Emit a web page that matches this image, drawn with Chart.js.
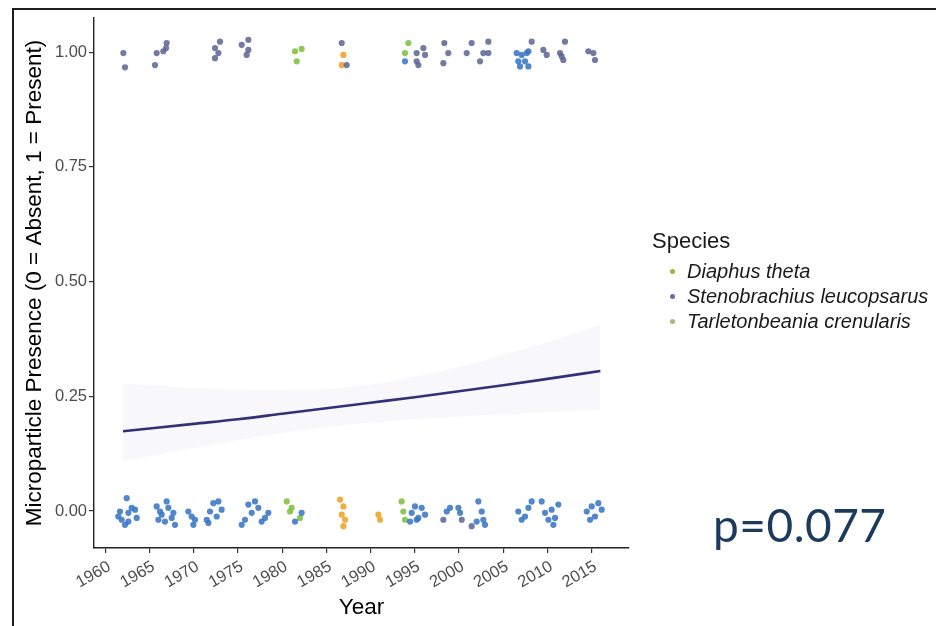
<!DOCTYPE html>
<html>
<head>
<meta charset="utf-8">
<script src="https://cdn.jsdelivr.net/npm/chart.js@4/dist/chart.umd.min.js"></script>
<style>
  html, body { margin: 0; padding: 0; background: #ffffff; }
  #wrap { position: relative; width: 936px; height: 626px; overflow: hidden; background: #ffffff; }
  #frame { position: absolute; left: 12px; top: 8px; right: 0; bottom: -4px;
           border-left: 2px solid #1e1e1e; border-top: 2px solid #1e1e1e; pointer-events: none; }
  #chart { position: absolute; left: 0; top: 0; }
  #legend { position: absolute; left: 652px; top: 226px; font-family: "Liberation Sans", Arial, sans-serif; color: #1a1a1a; }
  #legend .title { font-size: 22px; line-height: 30px; margin-bottom: 3px; }
  #legend .item { position: relative; height: 25px; line-height: 25px; font-size: 20px; font-style: italic; padding-left: 35px; white-space: nowrap; }
  #legend .dot { position: absolute; left: 18px; top: 10px; width: 5px; height: 5px; border-radius: 50%; }
  #pval { position: absolute; left: 713px; top: 497px; font-family: Lato, "Open Sans", sans-serif; font-size: 46px; color: #1b3a5c; letter-spacing: 0.5px; }
</style>
</head>
<body>
<div id="wrap">
  <canvas id="chart" width="936" height="626"></canvas>
  <div id="frame"></div>
  <div id="legend"></div>
  <div id="pval">p=0.077</div>
</div>
<script>
// Axis ticks
const yearTicks = [1960, 1965, 1970, 1975, 1980, 1985, 1990, 1995, 2000, 2005, 2010, 2015];
const presenceTicks = [0, 0.25, 0.5, 0.75, 1];

// Species shown in the legend, with their key colours
const speciesNames = ["Diaphus theta", "Stenobrachius leucopsarus", "Tarletonbeania crenularis"];
const speciesKeyColors = ["#8fb84a", "#6c6aa8", "#a6bb78"];

// Jittered observations: [year, presence]
const stenoAbsent = [
  [1962.42, 0.028], [1961.66, -0.001], [1962.61, -0.004], [1963.36, 0.003], [1961.85, -0.019],
  [1962.61, -0.023], [1963.55, -0.015], [1962.23, -0.030], [1961.47, -0.012], [1962.98, 0.007],
  [1965.81, 0.010], [1966.19, -0.001], [1966.00, -0.019], [1966.94, 0.021], [1967.13, 0.007],
  [1967.51, -0.015], [1966.38, -0.008], [1966.75, -0.023], [1967.88, -0.030], [1967.70, -0.004],
  [1969.39, -0.001], [1969.77, -0.012], [1970.15, -0.019], [1969.96, -0.030],
  [1971.47, -0.019], [1971.84, -0.001], [1972.22, 0.017], [1972.79, 0.021], [1973.16, 0.003],
  [1971.66, -0.026], [1972.60, -0.012],
  [1976.18, 0.014], [1976.93, 0.021], [1976.56, -0.004], [1977.31, 0.007], [1975.80, -0.019],
  [1975.43, -0.030], [1978.07, -0.015], [1978.44, -0.004], [1977.69, -0.023],
  [1981.46, -0.023], [1982.21, -0.004],
  [1994.66, -0.004], [1995.03, 0.010], [1994.47, -0.023], [1995.22, -0.019], [1995.79, 0.007],
  [1996.17, -0.008], [1995.41, -0.015],
  [1998.62, -0.001], [1999.00, 0.007], [1999.94, 0.007], [2000.13, -0.004],
  [2002.20, 0.021], [2002.58, -0.001], [2002.01, -0.023], [2002.76, -0.019], [2002.95, -0.030],
  [2006.72, -0.001], [2007.10, -0.019], [2007.86, 0.007], [2008.23, 0.021], [2007.48, -0.012],
  [2009.36, 0.021], [2009.74, -0.004], [2010.49, 0.003], [2010.87, -0.015], [2010.12, -0.019],
  [2011.25, 0.014], [2010.68, -0.030],
  [2014.46, -0.001], [2014.83, -0.019], [2015.02, 0.010], [2015.77, 0.017], [2016.15, 0.003],
  [2015.39, -0.012]
];
const stenoAbsentDark = [
  [1998.24, -0.019], [2000.32, -0.019], [2001.44, -0.033]
];
const stenoPresent = [
  [1962.04, 0.998], [1962.23, 0.967], [1965.62, 0.972], [1965.81, 0.998], [1966.56, 1.002],
  [1966.87, 1.009], [1966.94, 1.020], [1972.41, 1.009], [1972.79, 0.998], [1972.41, 0.987],
  [1972.97, 1.023], [1975.43, 1.016], [1976.18, 1.027], [1976.18, 1.005], [1975.99, 0.994],
  [1986.74, 1.020], [1987.30, 0.972],
  [1995.22, 0.998], [1995.98, 1.009], [1996.17, 0.994], [1995.22, 0.980], [1995.41, 0.972],
  [1998.35, 1.020], [1998.80, 0.998], [1998.24, 0.976], [2000.88, 0.998], [2001.44, 1.020],
  [2002.76, 0.998], [2003.33, 0.998], [2003.33, 1.023], [2002.39, 0.980],
  [2008.23, 1.023], [2009.55, 1.005], [2009.93, 0.994], [2011.44, 0.998], [2011.81, 0.983],
  [2012.00, 1.023], [2011.63, 0.991], [2014.64, 1.002], [2015.21, 0.998], [2015.39, 0.983]
];
const stenoPresentLight = [
  [2006.53, 0.998], [2007.10, 0.994], [2007.67, 0.998], [2007.86, 1.002], [2006.72, 0.980],
  [2007.48, 0.980], [2006.91, 0.969], [2007.86, 0.969], [1993.90, 0.980]
];
const diaphusAbsent = [
  [1980.52, 0.021], [1980.89, -0.001], [1982.02, -0.015], [1981.08, 0.007],
  [1993.52, 0.021], [1993.71, -0.001], [1993.90, -0.019]
];
const diaphusPresent = [
  [1981.46, 1.002], [1981.65, 0.980], [1982.21, 1.007], [1994.28, 1.020], [1993.90, 0.998]
];
const tarletonAbsent = [
  [1986.55, 0.025], [1986.93, 0.010], [1986.74, -0.008], [1987.12, -0.019], [1986.93, -0.033],
  [1990.89, -0.008], [1991.08, -0.019]
];
const tarletonPresent = [
  [1986.93, 0.994], [1986.74, 0.972]
];

// Fitted logistic trend with its confidence band: [year, probability]
const fitYears = [1962, 1965, 1970, 1975, 1980, 1985, 1990, 1995, 2000, 2005, 2010, 2016];
const fitMean  = [0.174, 0.180, 0.190, 0.200, 0.212, 0.224, 0.236, 0.248, 0.261, 0.274, 0.288, 0.305];
const fitLower = [0.110, 0.120, 0.138, 0.155, 0.170, 0.183, 0.193, 0.200, 0.206, 0.211, 0.216, 0.222];
const fitUpper = [0.278, 0.274, 0.268, 0.264, 0.263, 0.266, 0.275, 0.292, 0.314, 0.340, 0.368, 0.405];

const toXY = arr => arr.map(([x, y]) => ({ x, y }));
const pairUp = vals => fitYears.map((x, i) => ({ x, y: vals[i] }));

const pointStyle = (data, color) => ({
  type: "scatter",
  data: toXY(data),
  backgroundColor: color,
  borderWidth: 0,
  pointRadius: 3.1,
  pointHoverRadius: 3.1
});

const tickFont = { family: "'Liberation Sans', Arial, sans-serif", size: 16.5 };
const titleFont = { family: "'Liberation Sans', Arial, sans-serif", size: 22.5 };

new Chart(document.getElementById("chart"), {
  data: {
    datasets: [
      { type: "line", data: pairUp(fitLower), borderWidth: 0, pointRadius: 0, fill: false,
        borderColor: "rgba(0,0,0,0)", tension: 0.4, cubicInterpolationMode: "monotone" },
      { type: "line", data: pairUp(fitUpper), borderWidth: 0, pointRadius: 0, fill: "-1",
        borderColor: "rgba(0,0,0,0)", backgroundColor: "rgba(140,140,215,0.07)",
        tension: 0.4, cubicInterpolationMode: "monotone" },
      pointStyle(stenoAbsent, "rgba(58,120,196,0.88)"),
      pointStyle(stenoAbsentDark, "rgba(92,104,150,0.88)"),
      pointStyle(stenoPresent, "rgba(92,100,146,0.85)"),
      pointStyle(stenoPresentLight, "rgba(58,120,196,0.88)"),
      pointStyle(diaphusAbsent, "rgba(128,192,64,0.88)"),
      pointStyle(diaphusPresent, "rgba(128,192,64,0.88)"),
      pointStyle(tarletonAbsent, "rgba(240,164,40,0.9)"),
      pointStyle(tarletonPresent, "rgba(240,164,40,0.9)"),
      { type: "line", data: pairUp(fitMean), borderColor: "#2d2a6c", borderWidth: 2.6,
        pointRadius: 0, fill: false, tension: 0.4, cubicInterpolationMode: "monotone" }
    ]
  },
  options: {
    responsive: false,
    animation: false,
    devicePixelRatio: 1,
    layout: { padding: { left: 14, top: 18, right: 307, bottom: 0 } },
    plugins: { legend: { display: false }, tooltip: { enabled: false } },
    scales: {
      x: {
        type: "linear",
        min: 1958.72,
        max: 2019.24,
        afterBuildTicks: s => { s.ticks = yearTicks.map(v => ({ value: v })); },
        afterFit: s => { s.height = 78; },
        ticks: { autoSkip: false, minRotation: 30, maxRotation: 30, padding: 4, labelOffset: 4,
                 color: "#4d4d4d", font: tickFont, callback: v => String(v) },
        grid: { drawOnChartArea: false, drawTicks: true, tickLength: 5, color: "#333333", lineWidth: 1.2 },
        border: { display: true, color: "#222222", width: 1.4 },
        title: { display: true, text: "Year", color: "#000000", font: titleFont,
                 padding: { top: 0, bottom: 5 } }
      },
      y: {
        type: "linear",
        min: -0.0806,
        max: 1.0745,
        afterBuildTicks: s => { s.ticks = presenceTicks.map(v => ({ value: v })); },
        afterFit: s => { s.width = 80; },
        ticks: { padding: 2, color: "#4d4d4d", font: tickFont, callback: v => Number(v).toFixed(2) },
        grid: { drawOnChartArea: false, drawTicks: true, tickLength: 5, color: "#333333", lineWidth: 1.2 },
        border: { display: true, color: "#222222", width: 1.4 },
        title: { display: true, text: "Microparticle Presence (0 = Absent, 1 = Present)",
                 color: "#000000", font: titleFont, padding: { top: 7, bottom: 0 } }
      }
    }
  }
});

// Species key
const legend = document.getElementById("legend");
const head = document.createElement("div");
head.className = "title";
head.textContent = "Species";
legend.appendChild(head);
speciesNames.forEach((name, i) => {
  const row = document.createElement("div");
  row.className = "item";
  const dot = document.createElement("span");
  dot.className = "dot";
  dot.style.background = speciesKeyColors[i];
  row.appendChild(dot);
  row.appendChild(document.createTextNode(name));
  legend.appendChild(row);
});
</script>
</body>
</html>
